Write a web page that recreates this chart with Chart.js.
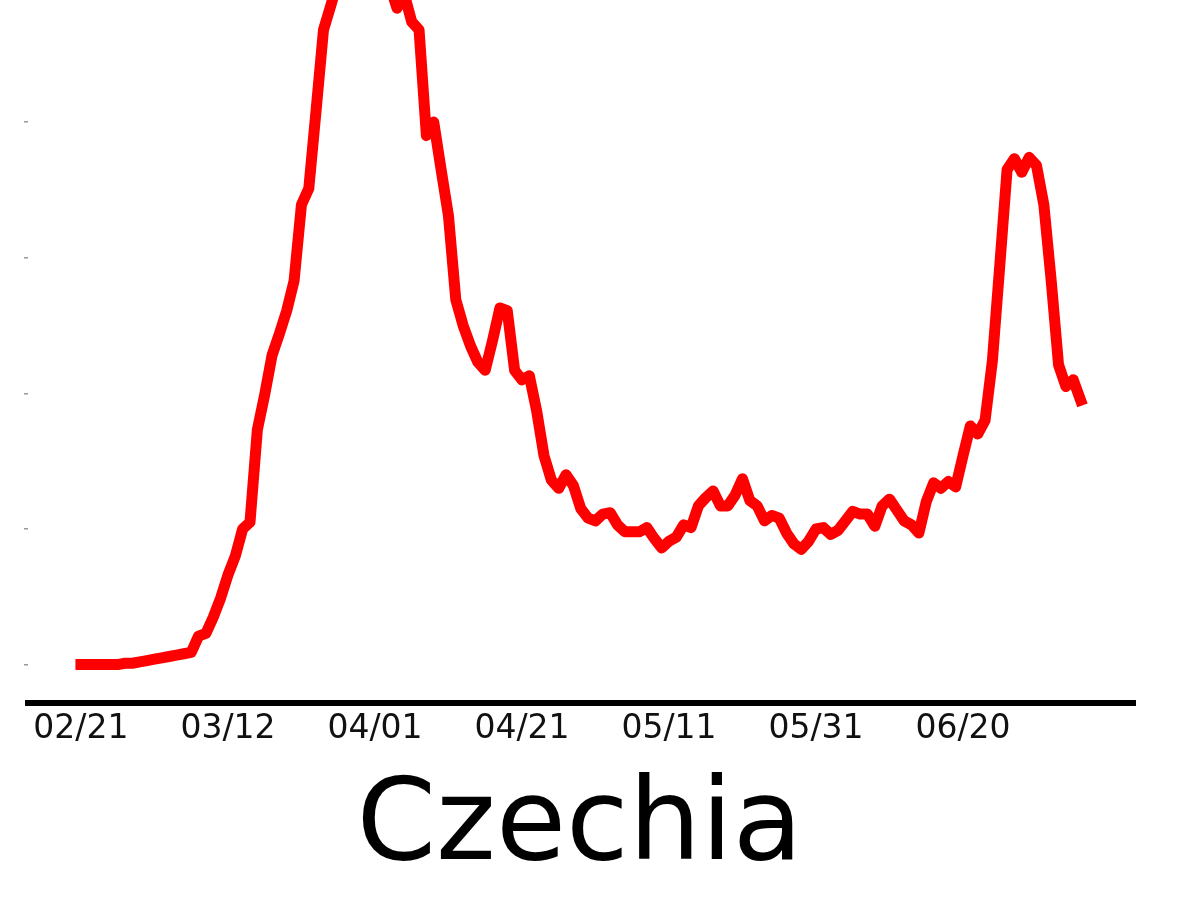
<!DOCTYPE html>
<html>
<head>
<meta charset="utf-8">
<script src="https://cdn.jsdelivr.net/npm/chart.js@4.4.1/dist/chart.umd.min.js"></script>
<style>
  html, body { margin: 0; padding: 0; background: #fff; }
  #wrap { width: 1200px; height: 900px; }
</style>
</head>
<body>
<div id="wrap"><canvas id="czChart" width="1200" height="900"></canvas></div>
<script>
// daily values, day 0 = 02/21
const values = [
  0, 0, 0, 0, 0, 0, 1, 1, 2, 3,
  4, 5, 6, 7, 8, 9, 21, 23, 35, 49,
  66, 80, 100, 105, 173, 199, 228, 244, 261, 283,
  339, 351, 409, 468, 486, 505, 516, 523, 527, 527,
  520, 512, 501, 484, 494, 474, 468, 390, 400, 365,
  331, 269, 250, 235, 223, 217, 239, 263, 261, 217,
  210, 213, 187, 154, 136, 130, 140, 132, 115, 108,
  106, 111, 112, 103, 98, 98, 98, 101, 93, 86,
  91, 94, 103, 101, 117, 123, 128, 117, 117, 125,
  137, 121, 117, 106, 110, 108, 97, 89, 85, 91,
  100, 101, 96, 99, 106, 113, 111, 111, 102, 117,
  122, 114, 106, 103, 97, 120, 134, 130, 135, 131,
  154, 176, 170, 180, 224, 294, 365, 373, 363, 374,
  368, 339, 283, 221, 205, 210, 195
];

const tickDays = [0, 20, 40, 60, 80, 100, 120];
const tickLabels = ['02/21', '03/12', '04/01', '04/21', '05/11', '05/31', '06/20'];
const yTicks = [0, 100, 200, 300, 400];

const points = values.map((v, i) => ({ x: i, y: v }));

new Chart(document.getElementById('czChart').getContext('2d'), {
  type: 'line',
  data: {
    datasets: [{
      data: points,
      borderColor: '#ff0000',
      borderWidth: 11,
      borderJoinStyle: 'round',
      borderCapStyle: 'square',
      pointRadius: 0,
      tension: 0,
      fill: false
    }]
  },
  options: {
    responsive: false,
    animation: false,
    events: [],
    layout: { padding: { left: 24, right: 65, top: 0, bottom: 0 } },
    plugins: {
      legend: { display: false },
      tooltip: { enabled: false },
      title: {
        display: true,
        text: 'Czechia',
        position: 'bottom',
        color: '#000',
        font: { family: 'DejaVu Sans', size: 114, weight: 'normal' },
        padding: { top: 5, bottom: 2 }
      }
    },
    scales: {
      x: {
        type: 'linear',
        min: -7.2,
        max: 143.4,
        afterBuildTicks: (axis) => { axis.ticks = tickDays.map(d => ({ value: d })); },
        grid: { display: false, drawTicks: false },
        border: { display: true, color: '#000', width: 6 },
        ticks: {
          autoSkip: false,
          maxRotation: 0,
          padding: 7,
          color: '#111',
          font: { family: 'DejaVu Sans', size: 33 },
          callback: (v) => tickLabels[tickDays.indexOf(v)]
        }
      },
      y: {
        min: -28,
        max: 490,
        afterBuildTicks: (axis) => { axis.ticks = yTicks.map(v => ({ value: v })); },
        grid: { display: true, drawOnChartArea: false, drawTicks: true, tickLength: 4, color: '#999', lineWidth: 1.5 },
        border: { display: false },
        ticks: { display: false }
      }
    }
  }
});
</script>
</body>
</html>
